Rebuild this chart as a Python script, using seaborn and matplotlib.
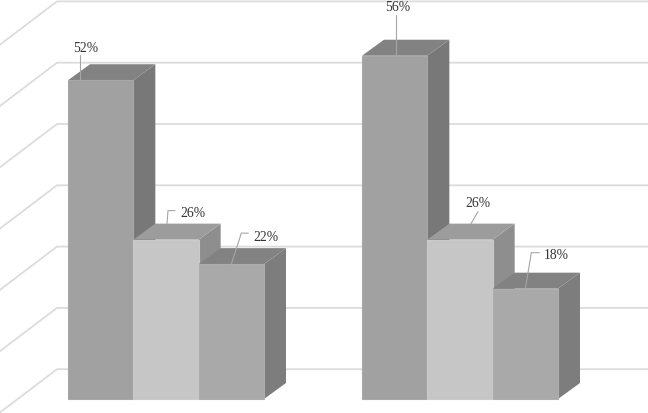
import matplotlib
matplotlib.use("Agg")
import matplotlib.pyplot as plt
import numpy as np
import pandas as pd
import seaborn as sns

# data
groups = ["A", "B"]
series = ["S1", "S2", "S3"]
values_s1 = [52, 56]
values_s2 = [26, 26]
values_s3 = [22, 18]
grid_levels = [0, 10, 20, 30, 40, 50, 60]

# style
W, H = 648, 414
PX_PER_GROUP = 294.0
PX_PER_UNIT = 6.13
X0_PX, Y0_PX = 166.0, 400.0
front_cols = ["#a1a1a1", "#c6c6c6", "#a9a9a9"]
top_cols = ["#828282", "#9c9c9c", "#828282"]
side_cols = ["#787878", "#8e8e8e", "#7d7d7d"]
edge_cols = ["#a8a8a8", "#cacaca", "#aeaeae"]

df = pd.DataFrame({
    "group": np.repeat(groups, len(series)),
    "series": series * len(groups),
    "value": [v for trio in zip(values_s1, values_s2, values_s3) for v in trio],
})

sns.set_theme(style="white")
plt.rcParams["font.family"] = ["Liberation Serif", "DejaVu Serif"]
fig = plt.figure(figsize=(W / 100, H / 100), dpi=100)
ax = fig.add_axes([0, 0, 1, 1])

sns.barplot(data=df, x="group", y="value", hue="series", hue_order=series,
            order=groups, palette=front_cols, saturation=1, width=196 / PX_PER_GROUP,
            gap=0, dodge=True, legend=False, ax=ax, linewidth=0)

ax.set_xlim(-X0_PX / PX_PER_GROUP, (W - X0_PX) / PX_PER_GROUP)
ax.set_ylim((Y0_PX - H) / PX_PER_UNIT, Y0_PX / PX_PER_UNIT)
ax.axis("off")


def dx(px):
    return px / PX_PER_GROUP


def dy(px):
    return px / PX_PER_UNIT


# back wall and left wall grid lines
wall_x, wall_y = dx(57 - X0_PX), dy(29.8)
for lvl in grid_levels:
    y = lvl + wall_y
    ax.plot([wall_x + dx(-60), wall_x, ax.get_xlim()[1]],
            [y - dy(45.5), y, y], color="#dcdcdc", lw=1.3, zorder=1,
            solid_joinstyle="miter")

# label offset from bar top-centre in px: text centre, leader points
label_geom = {
    (0, 0): ((-15, -33), [(-21, 0), (-21, -25)]),
    (0, 1): ((27, -27), [(1, -16), (2, -29), (9, -29)]),
    (0, 2): ((35, -28), [(0, 0), (10, -31), (17, -31)]),
    (1, 0): ((3.5, -49), [(1.5, 0), (1.5, -41)]),
    (1, 1): ((18, -37), [(11, -16), (18, -28)]),
    (1, 2): ((31, -34), [(0, 0), (6, -36), (14, -36)]),
}

depth_x, depth_y = dx(22), dy(16)
patches = [p for p in ax.patches if p.get_height() > 0]
patches.sort(key=lambda p: p.get_x())
for i, p in enumerate(patches):
    g, s = i // 3, i % 3
    z = 3 + i
    x0, x1, h = p.get_x(), p.get_x() + p.get_width(), p.get_height()
    ax.fill([x1, x1 + depth_x, x1 + depth_x, x1],
            [0, depth_y, h + depth_y, h], color=side_cols[s], lw=0, zorder=z)
    ax.fill([x0, x1, x1 + depth_x, x0 + depth_x],
            [h, h, h + depth_y, h + depth_y], color=top_cols[s], lw=0, zorder=z)
    p.set_zorder(z + 0.5)
    p.set_edgecolor(edge_cols[s])
    p.set_linewidth(0.8)
    cx = (x0 + x1) / 2
    (tx, ty), pts = label_geom[(g, s)]
    ax.plot([cx + dx(a) for a, b in pts], [h - dy(b) for a, b in pts],
            color="#a6a6a6", lw=0.8, zorder=30)
    ax.text(cx + dx(tx), h - dy(ty), f"{h:.0f}%", ha="center", va="center",
            fontsize=9.8, color="#333333", zorder=31)

fig.savefig("out.png", dpi=100, facecolor="white")
